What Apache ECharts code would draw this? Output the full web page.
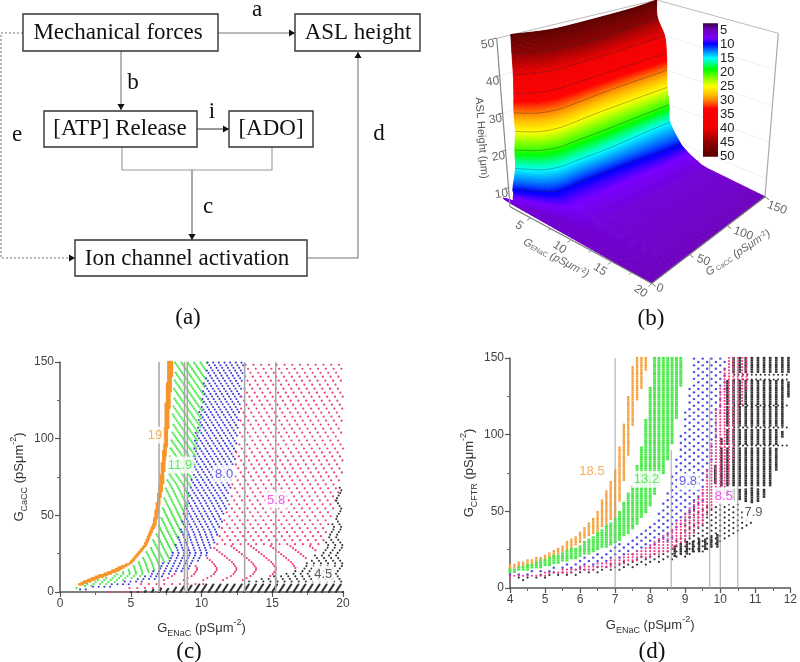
<!DOCTYPE html><html><head><meta charset="utf-8"><style>html,body{margin:0;background:#fff}#c{width:800px;height:662px;filter:blur(0.5px)}</style>
<script src="https://cdn.jsdelivr.net/npm/echarts@6/dist/echarts.min.js"></script></head><body><div id="c"></div><script>
// ---------- panel (b): GE position of each ASL-height contour
const surfaceLevels=[50,45,40,35,30,25,20,15,10,9,8,7,6,5];
const surfaceGc=[20,35,50,75,100,125,150];
const surfaceEdgeGc=[14,13,9,9,7,7,6,6,2,1,0,0,0,0];
const surfaceEdgeGe=[2.4,2.5,3.0,2.9,3.0,3.0,2.9,2.8,2.8,3.0,3.0,3.0,3.0,20];
const geAt50=[2.6,3.1,3.4,3.4,3.3,3.1,2.5];
const geAt45=[2.8,3.5,3.8,4.0,3.8,3.3,2.6];
const geAt40=[3.5,4.1,4.2,4.2,4.1,3.9,3.7];
const geAt35=[3.8,4.3,4.4,4.3,4.2,4.1,4.0];
const geAt30=[4.2,4.7,4.7,4.5,4.3,4.2,4.1];
const geAt25=[4.2,4.7,4.7,4.5,4.4,4.3,4.2];
const geAt20=[4.2,4.8,4.8,4.8,4.7,4.6,4.5];
const geAt15=[4.4,5.0,5.0,5.1,5.0,4.8,4.7];
const geAt10=[5.2,5.6,5.6,5.7,5.9,6.2,6.4];
const geAt9=[6.0,6.3,6.4,6.5,6.7,7.0,7.0];
const geAt8=[7.0,7.3,7.4,7.5,7.6,7.8,7.8];
const geAt7=[8.4,8.8,8.9,9.0,9.0,9.0,9.0];
const geAt6=[11,11.5,11.5,11.5,11.5,11.2,11];
const geAt5=[20,20,20,20,20,20,20];
const contourLevels=[45,40,35,30,25,20,15,10];
const colorH=[2.6,4,5,8,10,12.5,15,17,19,22,25,28,30,33,40,45,50];
const colorHex=['#30003c','#5a0096','#6e00be','#7800ff','#0000ff','#0082ff','#00ffff','#00ff82','#00ff00','#82ff00','#ffff00','#ffbe00','#ff8200','#ff0000','#f00000','#8c0000','#5a0000'];
const zTicks=[10,20,30,40,50], geTicks=[5,10,15,20], gcTicks=[0,50,100,150];
const barLabels=[5,10,15,20,25,30,35,40,45,50];

// ---------- panel (c): band edges, GE read at each GC
const c19Gc=[5,7,13.5,19,30,45,71,93,121,150], c19L=[1.3,1.65,3.5,4.9,5.9,6.6,7.05,7.3,7.45,7.65], c19R=[1.65,2.2,4.1,5.1,6.1,6.8,7.3,7.55,7.75,8.0];
const c119Gc=[2.6,5,8,14,20,30,45,71,93,121,150], c119L=[1.1,1.6,2.7,4.7,5.6,6.4,7.05,7.5,7.8,8,8.1], c119R=[1.6,3.2,5,6.9,7.6,8.2,8.8,9.3,9.7,10.1,10.5];
const c80Gc=[1.5,3,5,9,14.5,25,34,56,71,99,150], c80L=[1.0,1.8,3.2,5.5,6.8,7.9,8.3,8.8,9.2,9.5,10.4], c80R=[1.8,3.5,5.2,7,9,10.6,11.05,11.9,12.1,12.6,13];
const c58GcL=[0,1.5,5,9,14.5,25,34,56,71,99,150], c58L=[3.5,4.5,5.2,7,9,10.6,11.05,11.9,12.1,12.6,13];
const c58GcR=[0,1.5,5,7,14.5,27.5,49,77,150], c58R=[6,6.3,9.9,13.4,16.7,18.4,19.3,20,20];
const c45Gc=[0,1.5,5,7,14.5,27.5,49,77,80], c45L=[5,6.3,9.9,13.4,16.7,18.4,19.3,19.9,20], c45R=[20,20,20,20,20,20,20,20,20];
const c45HatchGc=[0,5], c45HatchL=[5,9.9], c45HatchR=[20,20];
// stripe shape: GE shift of the sampled curves with GC
const stripeGc119=[0,5,12,20,40,70,150], stripe119=[1.4,.8,0,.3,1.4,3,9];
const stripeGc80=[0,10,25,40,60,150], stripe80=[1.5,.8,0,.6,1.8,8];
const stripeGc58=[0,5,10,15,20,30,45,60,150], stripe58=[1.4,.9,.3,0,.15,.9,2,3.1,9];
const arcGc58=[5,8,11,15,19,24,30], arc58=[1.5,.95,.3,0,.3,.95,1.8];
const stripeGc45=[5,12,18,24,30,36,42,48,54,60,66,72,80], stripe45=[-.5,0,-.5,0,-.5,0,-.4,0,-.4,0,-.4,0,-.4];
const hatchGc45=[0,5], hatch45=[0,-.35];
const cMarkers=[[7,150],[8.8,150],[9,150],[13.05,150],[15.25,150]];
const cLabels=[[6.71,102.4,'19','#f59a30'],[8.48,82.8,'11.9','#3fe03f'],[11.6,77,'8.0','#4040e0'],[15.27,60,'5.8','#f030f0'],[18.6,11.7,'4.5','#333333']];

// ---------- panel (d): band edges, GC read at each GE
const d185GeL=[4,5,5.86,6.42,7,7.18,7.28,7.4,7.53,7.64,7.76,7.87,7.95], d185L=[12,18,28,36,46,60,73,90,110,124,130,142,150];
const d185GeU=[4,5,5.86,6.42,7,7.18,7.28,7.4,7.53,7.95], d185U=[15,21.5,33.5,46.5,77,98,111,129,150,150];
const d132GeL=[4,5,6,7,7.5,7.85,8.03,8.2,8.37,8.6,8.7,8.9,8.95], d132L=[9.5,14,20,29,38,48,55,64,74,90,102,135,150];
const d132GeU=[4,5,6,7,7.5,7.75,7.9,8.05,8.1,8.95], d132U=[12,19,28,45,67,92,114,140,150,150];
const d98GeL=[4,5,6,7,7.5,8,8.5,9,9.5,9.9,10.2], d98L=[7,10,13,18,21,26,30,42,55,100,135];
const d98GeU=[4,5,6,7,7.85,8.2,8.6,9,9.25,10.2], d98U=[9.5,13,19,27,38,48,70,115,150,150];
const d85GeL=[4,5,6,7,8,8.5,9,9.5,9.7,9.9,10.2,10.35,10.42,10.7,10.85], d85L=[6,8,10.5,14,20,24,30,42,50,55,62,75,100,125,135];
const d85GeU=[4,5,6,7,8,8.5,9,9.5,9.7,9.85,10.2,10.85], d85U=[8,10,14,19,28,36,48,65,85,115,150,150];
const d79DotGeL=[4.2,7,8,8.6,9.7,10.5,10.9], d79DotL=[4.6,11,15,18,24,34.5,43];
const d79DotGeU=[4.2,7,8,8.6,9.15,9.95,10.5,10.9], d79DotU=[7,16,22,27,51,55,55,43];
const d79LowGe=[8.6,8.8,9,9.2,9.4,9.6,9.8,10], d79LowL=[20,21,22,23,24,25,26,27], d79LowU=[27,28,30,31,32,33,34,35];
const d79BarGe=[9.7,10,10.3,10.6,10.9,11.2,11.4,11.7,11.9], d79BarL=[72,66,58,58,55,58,64,84,125];
const d79LeftGc=[56,70,80,100,150], d79LeftGe=[9.7,9.7,9.85,10.05,10.25];
const d79Segments=[[141,150],[120,135],[106,118],[94,103],[67,92],[56,65]];
const d79DotRows=[93,104.6,119,136,139];
const dMarkers=[[7,150],[8.6,90],[9.7,150],[10,65],[10.5,150]];
const dLabels=[[6.34,75.9,'18.5','#f59a30'],[7.89,70.9,'13.2','#3fe03f'],[9.08,69.3,'9.8','#4040e0'],[10.1,60,'8.5','#f030f0'],[10.95,49,'7.9','#333333']];

// ---------- helpers
const interp=(xs,ys,x)=>{if(x<=xs[0])return ys[0];for(let i=1;i<xs.length;i++)if(x<=xs[i])return ys[i-1]+(ys[i]-ys[i-1])*(x-xs[i-1])/(xs[i]-xs[i-1]);return ys[ys.length-1];};
function rowBand(gcL,L,gcR,R,stripeGc,stripe,rowStep,colStep,g0b,g1b){const out=[];const g0=Math.max(gcL[0],gcR[0],g0b===undefined?-1:g0b),g1=Math.min(gcL[gcL.length-1],gcR[gcR.length-1],g1b===undefined?999:g1b);
 const start=Math.ceil(g0/rowStep);
 for(let j=start;j*rowStep<=g1;j++){const g=j*rowStep,l=interp(gcL,L,g),r=interp(gcR,R,g),w=stripeGc?interp(stripeGc,stripe,g):0;
  for(let k=Math.ceil((l+w)/colStep);k*colStep-w<=r;k++)out.push([k*colStep-w,g]);}return out;}
function colBand(geL,L,geU,U,colStep,rowStep,stagger){const out=[];const a=Math.max(geL[0],geU[0]),b=Math.min(geL[geL.length-1],geU[geU.length-1]);
 for(let k=Math.ceil(a/colStep-1e-9);k*colStep<=b+1e-9;k++){const x=k*colStep,lo=interp(geL,L,x),hi=interp(geU,U,x),off=stagger&&k%2?rowStep/2:0;
  for(let j=Math.ceil((lo-off)/rowStep);j*rowStep+off<=hi;j++)out.push([x,j*rowStep+off]);}return out;}
const dots=(name,data,color,size,gi,sym)=>({name,type:'scatter',xAxisIndex:gi,yAxisIndex:gi,data,symbol:sym||'circle',symbolSize:size,itemStyle:{color,opacity:1},silent:true,animation:false,large:false});
const markers=(list,gi,w)=>list.map(m=>({type:'line',xAxisIndex:gi,yAxisIndex:gi,data:[[m[0],0],[m[0],m[1]]],symbol:'none',silent:true,animation:false,z:4,lineStyle:{color:'#a6a6a6',width:w}}));
const tags=(list,gi)=>list.map(l=>({type:'scatter',xAxisIndex:gi,yAxisIndex:gi,data:[[l[0],l[1]]],symbolSize:0,silent:true,animation:false,z:6,label:{show:true,position:'inside',formatter:l[2],color:l[3],fontFamily:'Liberation Sans',fontSize:13,backgroundColor:'#fff',padding:[2,2]}}));

// ---------- panel (c)/(d) data
const cSeries=[
 dots('19',rowBand(c19Gc,c19L,c19Gc,c19R,null,null,1,.09),'#f6962c',2.2,0,'rect'),
 dots('11.9',rowBand(c119Gc,c119L,c119Gc,c119R,stripeGc119,stripe119,1.3,.45),'#4be84b',2.3,0),
 dots('8.0',rowBand(c80Gc,c80L,c80Gc,c80R,stripeGc80,stripe80,1.7,.4),'#3c3cdc',2.1,0),
 dots('5.8',rowBand(c58GcL,c58L,c58GcR,c58R,stripeGc58,stripe58,2.6,.55,0,7),'#ee3c82',2.2,0),
 dots('5.8 arcs',rowBand(c58GcL,c58L,c58GcR,c58R,arcGc58,arc58,1.3,1.39,7,31),'#ee3c82',2.2,0),
 dots('5.8 upper',rowBand(c58GcL,c58L,c58GcR,c58R,stripeGc58,stripe58,2.6,.55,31,150),'#ee3c82',2.2,0),
 dots('4.5 hatch',rowBand(c45HatchGc,c45HatchL,c45HatchGc,c45HatchR,hatchGc45,hatch45,.7,.5),'#333',2.2,0),
 dots('4.5',rowBand(c45Gc,c45L,c45Gc,c45R,stripeGc45,stripe45,1.7,.5,5.5,80),'#333',2.1,0)];
const blackBars=[];
d79Segments.forEach(s=>{for(let k=0;k<15;k++){const x=9.51+k*.174,lo=interp(d79BarGe,d79BarL,x);for(let g=Math.max(s[0],lo);g<=s[1];g+=1.5){if(x>=interp(d79LeftGc,d79LeftGe,g))blackBars.push([x,g]);}}});
const blackRows=[];
d79DotRows.forEach(r=>{for(let k=0;k<13;k++)blackRows.push([10.4+k*.125,r]);});
const dSeries=[
 dots('18.5',colBand(d185GeL,d185L,d185GeU,d185U,.125,1.5,false),'#f6a03c',[2.4,2.2],1,'rect'),
 dots('13.2',colBand(d132GeL,d132L,d132GeU,d132U,.125,1.5,false),'#4be84b',[3,2.2],1,'rect'),
 dots('9.8',colBand(d98GeL,d98L,d98GeU,d98U,.125,4.4,true),'#4a4ae6',2.4,1),
 dots('7.9 dots',colBand(d79DotGeL,d79DotL,d79DotGeU,d79DotU,.125,3.4,true),'#333',2.2,1),
 dots('7.9 low',colBand(d79LowGe,d79LowL,d79LowGe,d79LowU,.174,1.5,false),'#333',[2.4,2.2],1,'rect'),
 dots('7.9 bars',blackBars,'#333',[2.6,2.2],1,'rect'),
 dots('7.9 rows',blackRows,'#333',2,1),
 dots('8.5',colBand(d85GeL,d85L,d85GeU,d85U,.125,2,false),'#f0408c',2.2,1)];

// ---------- panel (b) projection
const FL=[510,206.7],FF=[651.7,283.3],FR=[765,196.7],FB=[655.7,150],TL=[496.7,38.3],TB=[656.7,0],TF=[650,98],TR=[778.3,33.3];
const bl=(A,B,C,D,a,b)=>[0,1].map(i=>A[i]*(1-a)*(1-b)+D[i]*a*(1-b)+B[i]*(1-a)*b+C[i]*a*b);
const project=(ge,gc,h)=>{const a=gc/150,b=(ge-2.5)/17.5,z=(h-5)/45,f=bl(FL,FF,FR,FB,a,b),t=bl(TL,TF,TR,TB,a,b);return [f[0]+(t[0]-f[0])*z,f[1]+(t[1]-f[1])*z];};
const hex2=c=>[1,3,5].map(i=>parseInt(c.substr(i,2),16));
const colorAt=h=>{const c=colorHex.map(hex2);return 'rgb('+[0,1,2].map(i=>Math.round(interp(colorH,c.map(v=>v[i]),h))).join(',')+')';};
const geRows=[geAt50,geAt45,geAt40,geAt35,geAt30,geAt25,geAt20,geAt15,geAt10,geAt9,geAt8,geAt7,geAt6,geAt5];
const cr=(p0,p1,p2,p3,t)=>[0,1].map(i=>.5*(2*p1[i]+(p2[i]-p0[i])*t+(2*p0[i]-5*p1[i]+4*p2[i]-p3[i])*t*t+(3*p1[i]-p0[i]-3*p2[i]+p3[i])*t*t*t));
const smoothRow=p=>{const o=[];for(let k=0;k<p.length-1;k++){const a=p[Math.max(k-1,0)],b=p[k],c=p[k+1],d=p[Math.min(k+2,p.length-1)];for(let s=0;s<5;s++)o.push(cr(a,b,c,d,s/5));}o.push(p[p.length-1]);return o;};
const rowPts=i=>{const p=[project(surfaceEdgeGe[i],surfaceEdgeGc[i],surfaceLevels[i])];surfaceGc.forEach((g,k)=>p.push(project(geRows[i][k],g,surfaceLevels[i])));return smoothRow(p);};
const axisFont="12px 'Liberation Sans'";
function surfaceItem(){const ch=[];
 const line=(p,q,color,w)=>ch.push({type:'line',shape:{x1:p[0],y1:p[1],x2:q[0],y2:q[1]},style:{stroke:color,lineWidth:w||1}});
 const txt=(s,x,y,rot,color,font,rich,align)=>ch.push({type:'text',x,y,rotation:rot||0,style:{text:s,fill:color||'#555',font:font||axisFont,align:align||'center',verticalAlign:'middle',rich}});
 // box
 [10,20,30,40].forEach(h=>{line(project(2.5,150,h),project(20,150,h),'#f0f0f0',1);line(project(2.5,0,h),project(2.5,150,h),'#f0f0f0',1);});
 line(TL,TB,'#bbb',1);line(TB,TR,'#bbb',1);line(TR,FR,'#aaa',1.2);line(TB,FB,'#ccc',1);
 // surface, lowest strip first
 const rows=surfaceLevels.map((h,i)=>rowPts(i)),nL=rows.length;
 for(let i=nL-2;i>=0;i--){const h1=surfaceLevels[i],h0=surfaceLevels[i+1],N=i===nL-2?48:i===nL-3?24:18;
  const at=(v,c)=>{ // v in 0..1 from row i+1 up to row i
   if(i===nL-2)return [0,1].map(d=>rows[i+1][c][d]+(rows[i][c][d]-rows[i+1][c][d])*v);
   return cr(rows[Math.min(i+2,nL-1)][c],rows[i+1][c],rows[i][c],rows[Math.max(i-1,0)][c],v);};
  for(let s=0;s<N;s++){const v0=s/N,v1=(s+1)/N,lo=[],up=[];
   for(let c=0;c<rows[0].length;c++){lo.push(at(v0,c));up.push(at(v1,c));}
   const col=colorAt(h0+(h1-h0)*(v0+v1)/2);
   ch.push({type:'polygon',shape:{points:lo.concat(up.reverse())},style:{fill:col,stroke:col,lineWidth:.8}});}}
 // contours
 contourLevels.forEach(h=>ch.push({type:'polyline',shape:{points:rows[surfaceLevels.indexOf(h)]},style:{stroke:'rgba(40,40,40,.45)',lineWidth:.8,fill:null}}));
 // axes
 line(TL,FL,'#888',1.2);line(FL,FF,'#777',1.2);line(FF,FR,'#777',1.2);
 zTicks.forEach(h=>{const p=project(2.5,0,h);line(p,[p[0]-4,p[1]+.5],'#777',1);txt(String(h),p[0]-(h==50?9:7),p[1]+6,.15,'#666');});
 geTicks.forEach(g=>{const p=project(g,0,5);line(p,[p[0]-3,p[1]+3],'#777',1);txt(String(g),p[0]-11,p[1]+8,-.6,'#666');});
 [7.5,12.5,17.5].forEach(g=>{const p=project(g,0,5);line(p,[p[0]-2,p[1]+2],'#777',1);});
 const gcOff={0:[8,5],50:[14,6],100:[16,8],150:[12,11]};
 gcTicks.forEach(g=>{const p=project(20,g,5);line(p,[p[0]+4,p[1]+3],'#777',1);txt(String(g),p[0]+gcOff[g][0],p[1]+gcOff[g][1],-.35,'#666');});
 const rich={m:{fontSize:11,fontFamily:'Liberation Sans',fontStyle:'italic',color:'#666'},s:{fontSize:7,fontFamily:'Liberation Sans',verticalAlign:'bottom',color:'#666'},u:{fontSize:7,fontFamily:'Liberation Sans',verticalAlign:'top',color:'#666'}};
 txt('{m|G}{s|ENaC}{m| (pSμm}{u|-2}{m|)}',556,258,-.48,'#666',"11px 'Liberation Sans'",rich);
 txt('{m|G}{s| CaCC}{m| (pSμm}{u|-2}{m|)}',738,253,.58,'#666',"11px 'Liberation Sans'",rich);
 txt('ASL Height (μm)',481.5,138,-1.5,'#555',"11px 'Liberation Sans'");
 // colour bar
 const by=h=>30+(h-5)*2.815,top=by(2.6),bot=by(50);
 ch.push({type:'rect',shape:{x:703,y:top,width:15,height:bot-top},style:{fill:{type:'linear',x:0,y:0,x2:0,y2:1,colorStops:colorH.map(h=>({offset:(h-2.6)/47.4,color:colorAt(h)}))}}});
 barLabels.forEach(h=>txt(String(h),720,by(h),0,'#222',"13px 'Liberation Sans'",null,'left'));
 return {type:'group',children:ch};}

// ---------- panel (a) boxes
const serif="'Liberation Serif'";
const box=(x,y,w,h)=>({type:'rect',shape:{x,y,width:w,height:h},style:{fill:'#fff',stroke:'#333',lineWidth:1.4},z:10});
const label=(s,x,y,size,align)=>({type:'text',x,y,style:{text:s,font:(size||23)+'px '+serif,fill:'#111',align:align||'center',verticalAlign:'middle'},z:11});
const path=(pts,dash,color)=>({type:'polyline',shape:{points:pts},style:{stroke:color||'#777',lineWidth:1.1,fill:null,lineDash:dash||null},z:9});
const arrow=(x,y,dir,color)=>{const s=5,w=3.6,p=dir=='r'?[[x,y],[x-s-1,y-w],[x-s-1,y+w]]:dir=='d'?[[x,y],[x-w,y-s-1],[x+w,y-s-1]]:[[x,y],[x-w,y+s+1],[x+w,y+s+1]];return {type:'polygon',shape:{points:p},style:{fill:color||'#111'},z:12};};
const flow=[
 path([[218,33],[295,33]]),arrow(295,33,'r'),
 path([[121,51],[121,110]]),arrow(121,110,'d'),
 path([[197,129],[229,129]],null,'#444'),arrow(229,129,'r'),
 path([[122,147],[122,170],[272,170],[272,147]],null,'#999'),
 path([[192,170],[192,240]],null,'#666'),arrow(192,240,'d'),
 path([[307,258],[358,258],[358,52]]),arrow(358,52,'u'),
 path([[23,33],[1,33],[1,258],[75,258]],[2,2],'#777'),arrow(75,258,'r'),
 box(23,14,195,37),box(295,14,125,37),box(44,111,153,36),box(229,111,84,36),box(75,240,232,36),
 label('Mechanical forces',118,33),label('ASL height',358,33),label('[ATP] Release',120,129),label('[ADO]',271,129),label('Ion channel activation',187,259),
 label('a',257,10),label('b',133,83),label('i',212,112),label('c',208,207),label('d',379,134),label('e',17,135),
 label('(a)',188,318),label('(b)',651,319),label('(c)',189,652),label('(d)',652,652)];

// ---------- axes
const nameRich={m:{fontSize:13,fontFamily:'Liberation Sans',color:'#333',lineHeight:20},s:{fontSize:9,fontFamily:'Liberation Sans',color:'#333',verticalAlign:'bottom'},u:{fontSize:9,fontFamily:'Liberation Sans',color:'#333',verticalAlign:'top'}};
const ax=(o,name,gap)=>Object.assign({type:'value',name,nameLocation:'middle',nameGap:gap,nameTextStyle:{rich:nameRich},splitLine:{show:false},
 axisLine:{show:true,onZero:false,lineStyle:{color:'#555',width:1.5}},axisTick:{show:true,inside:false,length:5,lineStyle:{color:'#555',width:1.2}},minorTick:{show:true,splitNumber:2,length:3,lineStyle:{color:'#666',width:1}},
 axisLabel:{color:'#444',fontFamily:'Liberation Sans',fontSize:12,margin:6,hideOverlap:false,showMinLabel:true,showMaxLabel:true}},o);
const option={animation:false,backgroundColor:'#fff',
 grid:[{left:60,top:362,width:283,height:230},{left:510,top:358,width:283,height:230}],
 xAxis:[ax({gridIndex:0,min:0,max:20,interval:5},'{m|G}{s|ENaC}{m| (pSμm}{u|-2}{m|)}',26),ax({gridIndex:1,min:4,max:12,interval:1},'{m|G}{s|ENaC}{m| (pSμm}{u|-2}{m|)}',27)],
 yAxis:[ax({gridIndex:0,min:0,max:150,interval:50},'{m|G}{s|CaCC}{m| (pSμm}{u|-2}{m|)}',31),ax({gridIndex:1,min:0,max:150,interval:50},'{m|G}{s|CFTR}{m| (pSμm}{u|-2}{m|)}',31)],
 graphic:{elements:flow},
 series:[...cSeries,...dSeries,...markers(cMarkers,0,1.5),...markers(dMarkers,1,1),...tags(cLabels,0),...tags(dLabels,1),
  {type:'custom',coordinateSystem:'none',data:[0],silent:true,animation:false,z:3,renderItem:()=>surfaceItem()}]};
const chart=echarts.init(document.getElementById('c'),null,{renderer:'canvas'});chart.setOption(option);
</script></body></html>
